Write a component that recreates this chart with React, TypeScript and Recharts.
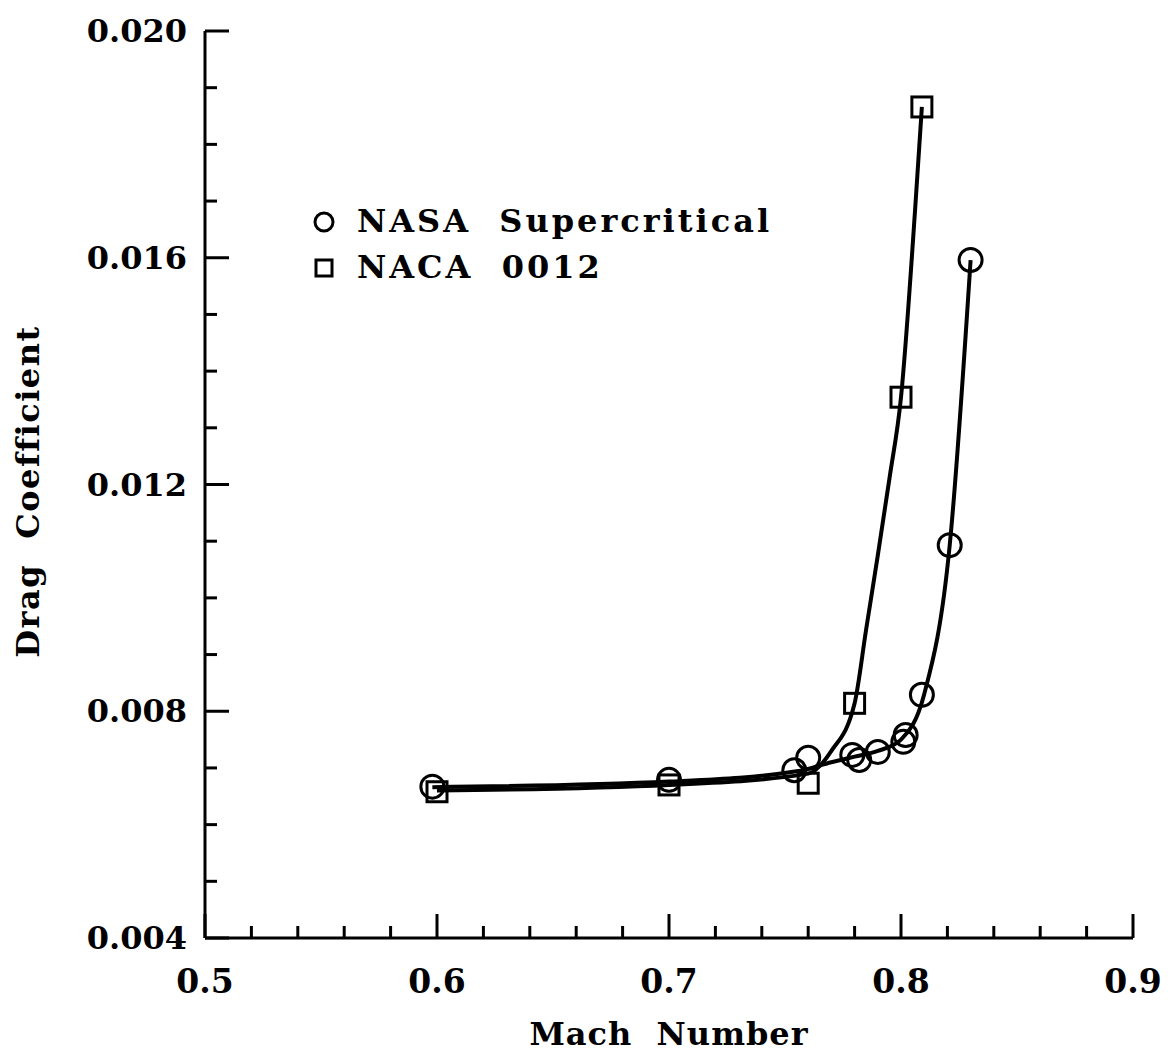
import React from 'react';
import { ComposedChart, Line, Scatter, XAxis, YAxis, Legend } from 'recharts';

// measured points (Mach number, drag coefficient)
const superMach = [0.598, 0.700, 0.754, 0.760, 0.779, 0.782, 0.790, 0.801, 0.802, 0.809, 0.821, 0.830];
const superCd = [0.00667, 0.00679, 0.00696, 0.00718, 0.00723, 0.00714, 0.00728, 0.00746, 0.00758, 0.00829, 0.01093, 0.01596];
const nacaMach = [0.600, 0.700, 0.760, 0.780, 0.800, 0.809];
const nacaCd = [0.00658, 0.00670, 0.00673, 0.00814, 0.01354, 0.01866];

// faired curves
const superFitMach = [0.598, 0.700, 0.755, 0.770, 0.780, 0.790, 0.800, 0.810, 0.821, 0.830];
const superFitCd = [0.00666, 0.00676, 0.00694, 0.00710, 0.00720, 0.00730, 0.00750, 0.00830, 0.01093, 0.01596];
const nacaFitMach = [0.600, 0.700, 0.760, 0.770, 0.780, 0.785, 0.790, 0.795, 0.800, 0.806, 0.809];
const nacaFitCd = [0.00660, 0.00670, 0.00690, 0.00730, 0.00814, 0.00945, 0.01075, 0.01210, 0.01354, 0.01680, 0.01866];

const machTicks = [0.5, 0.52, 0.54, 0.56, 0.58, 0.6, 0.62, 0.64, 0.66, 0.68, 0.7, 0.72, 0.74, 0.76, 0.78, 0.8, 0.82, 0.84, 0.86, 0.88, 0.9];
const machLabels = [0.5, 0.6, 0.7, 0.8, 0.9];
const cdTicks = [0.004, 0.005, 0.006, 0.007, 0.008, 0.009, 0.010, 0.011, 0.012, 0.013, 0.014, 0.015, 0.016, 0.017, 0.018, 0.019, 0.020];
const cdLabels = [0.004, 0.008, 0.012, 0.016, 0.020];

const FONT = '"DejaVu Serif", serif';

const toPoints = (xs: number[], ys: number[]) => xs.map((x, i) => ({ x, y: ys[i] }));

const isMajor = (list: number[], v: number) => list.some((m) => Math.abs(m - v) < 1e-7);

const MachTick = (props: any) => {
  const { x, y, payload } = props;
  const major = isMajor(machLabels, payload.value);
  return (
    <g>
      <line x1={x} y1={y} x2={x} y2={y - (major ? 24 : 12)} stroke="#000" strokeWidth={3} />
      {major && (
        <text x={x} y={y + 55} textAnchor="middle" fontFamily={FONT} fontWeight="bold" fontSize={33} fill="#000">
          {payload.value.toFixed(1)}
        </text>
      )}
    </g>
  );
};

const CdTick = (props: any) => {
  const { x, y, payload } = props;
  const major = isMajor(cdLabels, payload.value);
  return (
    <g>
      <line x1={x} y1={y} x2={x + (major ? 24 : 12)} y2={y} stroke="#000" strokeWidth={3} />
      {major && (
        <text x={x - 18} y={y + 11} textAnchor="end" fontFamily={FONT} fontWeight="bold" fontSize={32} fill="#000">
          {payload.value.toFixed(3)}
        </text>
      )}
    </g>
  );
};

const CircleMark = (props: any) => (
  <circle cx={props.cx} cy={props.cy} r={11.5} fill="none" stroke="#000" strokeWidth={3} />
);

const SquareMark = (props: any) => (
  <rect x={props.cx - 10} y={props.cy - 10} width={20} height={20} fill="none" stroke="#000" strokeWidth={3} />
);

const KeyBox = () => (
  <svg width={520} height={96}>
    <circle cx={16} cy={24} r={9} fill="none" stroke="#000" strokeWidth={3} />
    <text x={49} y={34} fontFamily={FONT} fontWeight="bold" fontSize={32} letterSpacing={3} fill="#000" style={{ whiteSpace: 'pre' }}>
      {'NASA  Supercritical'}
    </text>
    <rect x={8} y={62} width={16} height={16} fill="none" stroke="#000" strokeWidth={3} />
    <text x={49} y={80} fontFamily={FONT} fontWeight="bold" fontSize={32} letterSpacing={3} fill="#000" style={{ whiteSpace: 'pre' }}>
      {'NACA  0012'}
    </text>
  </svg>
);

export default function App() {
  return (
    <div style={{ width: 1161, height: 1049, background: '#fff' }}>
      <ComposedChart width={1161} height={1049} margin={{ top: 23, right: 36, left: 7, bottom: 0 }}>
        <XAxis
          type="number"
          dataKey="x"
          domain={[0.5, 0.9]}
          ticks={machTicks}
          interval={0}
          allowDataOverflow
          height={119}
          axisLine={{ stroke: '#000', strokeWidth: 3 }}
          tickLine={false}
          tickSize={0}
          tickMargin={0}
          tick={<MachTick />}
          label={{
            content: (p: any) => {
              const vb = p.viewBox;
              return (
                <text x={vb.x + vb.width / 2} y={vb.y + 107} textAnchor="middle" fontFamily={FONT} fontWeight="bold" fontSize={32} letterSpacing={1} fill="#000" style={{ whiteSpace: 'pre' }}>
                  {'Mach  Number'}
                </text>
              );
            },
          }}
        />
        <YAxis
          type="number"
          dataKey="y"
          domain={[0.004, 0.02]}
          ticks={cdTicks}
          interval={0}
          allowDataOverflow
          width={190}
          axisLine={{ stroke: '#000', strokeWidth: 3 }}
          tickLine={false}
          tickSize={0}
          tickMargin={0}
          tick={<CdTick />}
          label={{
            content: (p: any) => {
              const vb = p.viewBox;
              const cx = vb.x + 13;
              const cy = vb.y + vb.height / 2 + 7;
              return (
                <text x={cx} y={cy} transform={`rotate(-90, ${cx}, ${cy})`} textAnchor="middle" dominantBaseline="central" fontFamily={FONT} fontWeight="bold" fontSize={32} letterSpacing={1.5} fill="#000" style={{ whiteSpace: 'pre' }}>
                  {'Drag  Coefficient'}
                </text>
              );
            },
          }}
        />
        <Legend
          layout="vertical"
          align="center"
          verticalAlign="middle"
          content={() => <KeyBox />}
          wrapperStyle={{ position: 'absolute', left: 300, top: 190, width: 520, height: 96 }}
        />
        <Line data={toPoints(superFitMach, superFitCd)} dataKey="y" type="monotone" stroke="#000" strokeWidth={4} dot={false} isAnimationActive={false} legendType="none" />
        <Line data={toPoints(nacaFitMach, nacaFitCd)} dataKey="y" type="monotone" stroke="#000" strokeWidth={4} dot={false} isAnimationActive={false} legendType="none" />
        <Scatter name="NASA Supercritical" data={toPoints(superMach, superCd)} dataKey="y" shape={<CircleMark />} isAnimationActive={false} />
        <Scatter name="NACA 0012" data={toPoints(nacaMach, nacaCd)} dataKey="y" shape={<SquareMark />} isAnimationActive={false} />
      </ComposedChart>
    </div>
  );
}
